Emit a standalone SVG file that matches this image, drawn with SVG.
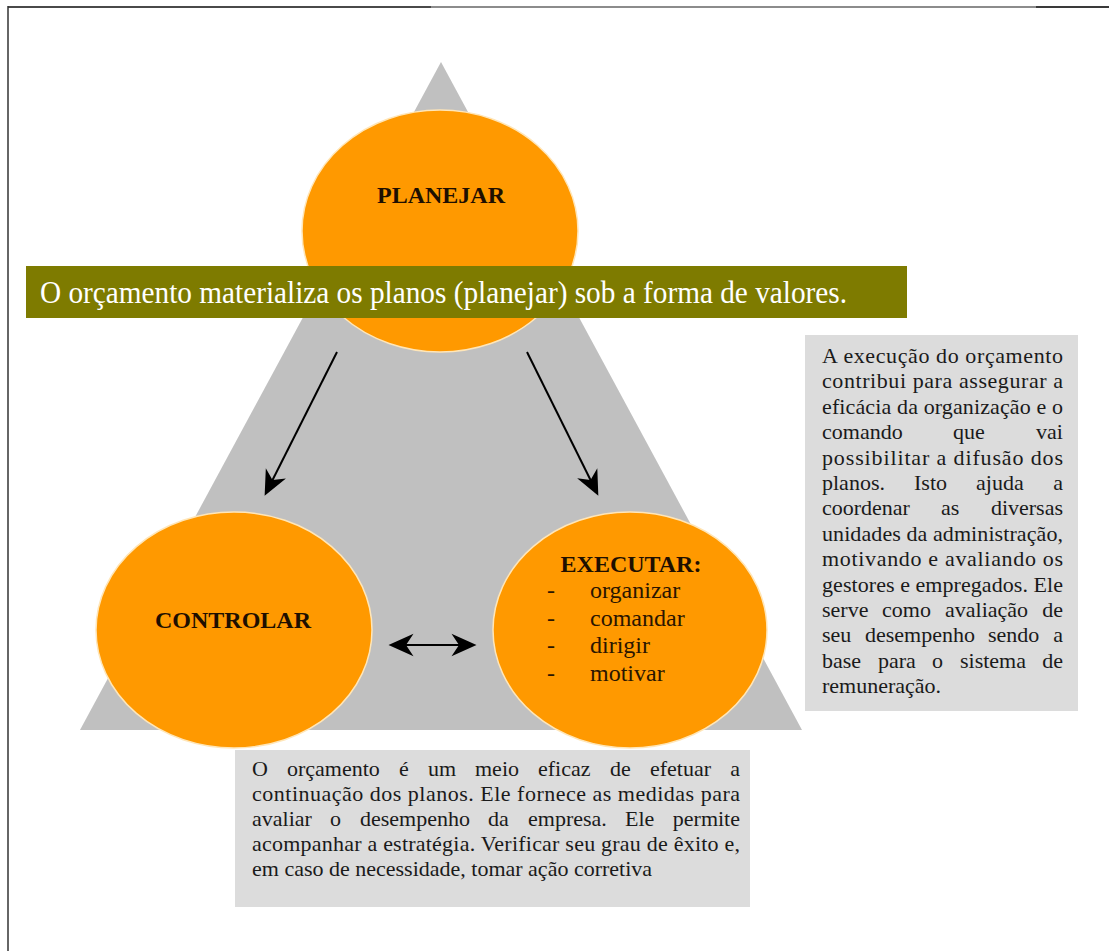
<svg xmlns="http://www.w3.org/2000/svg" width="1109" height="951" viewBox="0 0 1109 951">
<style>
.ell{fill:#ff9900;stroke:#ffe6b8;stroke-width:1.5}
.lbl{font-family:"Liberation Serif","Times New Roman",serif;font-weight:bold;font-size:24px;fill:#1e0f00;text-anchor:middle}
.item{font-family:"Liberation Serif","Times New Roman",serif;font-size:24px;fill:#2a1500}
.box{fill:#dcdcdc}
.bt{font-family:"Liberation Serif","Times New Roman",serif;font-size:22px;fill:#1a1a1a}
.end{text-anchor:end}
.conn{stroke:#000;stroke-width:2;fill:none}
</style>
<defs>
<marker id="ah" markerUnits="userSpaceOnUse" markerWidth="40" markerHeight="30" viewBox="-12 -12 30 24" refX="0" refY="0" orient="auto-start-reverse" overflow="visible">
<path d="M6,0 L-14,-9 L-8,0 L-14,9 Z" fill="#000"/>
</marker>
</defs>
<rect width="1109" height="951" fill="#fff"/>
<g id="frame">
<line x1="8" y1="7" x2="431" y2="7" stroke="#4a4a4a" stroke-width="2"/>
<line x1="431" y1="7" x2="1036" y2="7" stroke="#8c8c8c" stroke-width="2"/>
<line x1="1036" y1="7" x2="1109" y2="7" stroke="#3a3a3a" stroke-width="2"/>
<line x1="8" y1="6" x2="8" y2="951" stroke="#333" stroke-width="1.5"/>
</g>
<g id="triangle">
<polygon points="441,62 80,730 802,730" fill="#c0c0c0"/>
</g>
<g id="planejar">
<ellipse class="ell" cx="440" cy="231" rx="138" ry="121"/>
<text class="lbl" x="441" y="203">PLANEJAR</text>
</g>
<g id="controlar">
<ellipse class="ell" cx="234" cy="630" rx="138" ry="118"/>
<text class="lbl" x="233" y="628">CONTROLAR</text>
</g>
<g id="executar">
<ellipse class="ell" cx="630" cy="630" rx="137" ry="118"/>
<text class="lbl" x="631" y="572">EXECUTAR:</text>
<text class="item" x="547" y="598">-</text><text class="item" x="590" y="598">organizar</text>
<text class="item" x="547" y="626">-</text><text class="item" x="590" y="626">comandar</text>
<text class="item" x="547" y="653">-</text><text class="item" x="590" y="653">dirigir</text>
<text class="item" x="547" y="681">-</text><text class="item" x="590" y="681">motivar</text>
</g>
<g id="banner">
<rect x="26" y="266" width="881" height="52" fill="#7e7b00"/>
<text x="40" y="303" font-family="'Liberation Serif','Times New Roman',serif" font-size="31" fill="#fff" textLength="807" lengthAdjust="spacingAndGlyphs">O orçamento materializa os planos (planejar) sob a forma de valores.</text>
</g>
<g id="connectors">
<line class="conn" x1="337" y1="352" x2="268" y2="489" marker-end="url(#ah)"/>
<line class="conn" x1="527" y1="352" x2="595" y2="489" marker-end="url(#ah)"/>
<line class="conn" x1="396" y1="645" x2="469" y2="645" marker-start="url(#ah)" marker-end="url(#ah)"/>
</g>
<g id="right-box">
<rect class="box" x="805" y="335" width="273" height="376"/>
<text class="bt" x="822" y="363" textLength="241" lengthAdjust="spacing">A execução do orçamento</text>
<text class="bt" x="822" y="388" textLength="241" lengthAdjust="spacing">contribui para assegurar a</text>
<text class="bt" x="822" y="414" textLength="241" lengthAdjust="spacing">eficácia da organização e o</text>
<text class="bt" x="822" y="439">comando</text><text class="bt" x="953" y="439">que</text><text class="bt end" x="1063" y="439">vai</text>
<text class="bt" x="822" y="465" textLength="241" lengthAdjust="spacing">possibilitar a difusão dos</text>
<text class="bt" x="822" y="490">planos.</text><text class="bt" x="914" y="490">Isto</text><text class="bt" x="976" y="490">ajuda</text><text class="bt end" x="1063" y="490">a</text>
<text class="bt" x="822" y="515">coordenar</text><text class="bt" x="941" y="515">as</text><text class="bt end" x="1063" y="515">diversas</text>
<text class="bt" x="822" y="541" textLength="241" lengthAdjust="spacing">unidades da administração,</text>
<text class="bt" x="822" y="566" textLength="241" lengthAdjust="spacing">motivando e avaliando os</text>
<text class="bt" x="822" y="592" textLength="241" lengthAdjust="spacing">gestores e empregados. Ele</text>
<text class="bt" x="822" y="617">serve</text><text class="bt" x="882" y="617">como</text><text class="bt" x="945" y="617">avaliação</text><text class="bt end" x="1063" y="617">de</text>
<text class="bt" x="822" y="642">seu</text><text class="bt" x="865" y="642">desempenho</text><text class="bt" x="988" y="642">sendo</text><text class="bt end" x="1063" y="642">a</text>
<text class="bt" x="822" y="668">base</text><text class="bt" x="878" y="668">para</text><text class="bt" x="932" y="668">o</text><text class="bt" x="960" y="668">sistema</text><text class="bt end" x="1063" y="668">de</text>
<text class="bt" x="822" y="693">remuneração.</text>
</g>
<g id="bottom-box">
<rect class="box" x="235" y="750" width="515" height="157"/>
<text class="bt" x="252" y="776">O</text><text class="bt" x="287" y="776">orçamento</text><text class="bt" x="399" y="776">é</text><text class="bt" x="428" y="776">um</text><text class="bt" x="475" y="776">meio</text><text class="bt" x="538" y="776">eficaz</text><text class="bt" x="610" y="776">de</text><text class="bt" x="650" y="776">efetuar</text><text class="bt end" x="740" y="776">a</text>
<text class="bt" x="252" y="801" textLength="488" lengthAdjust="spacing">continuação dos planos. Ele fornece as medidas para</text>
<text class="bt" x="252" y="826">avaliar</text><text class="bt" x="330" y="826">o</text><text class="bt" x="360" y="826">desempenho</text><text class="bt" x="488" y="826">da</text><text class="bt" x="528" y="826">empresa.</text><text class="bt" x="625" y="826">Ele</text><text class="bt end" x="740" y="826">permite</text>
<text class="bt" x="252" y="851" textLength="488" lengthAdjust="spacing">acompanhar a estratégia. Verificar seu grau de êxito e,</text>
<text class="bt" x="252" y="876">em caso de necessidade, tomar ação corretiva</text>
</g>
</svg>
